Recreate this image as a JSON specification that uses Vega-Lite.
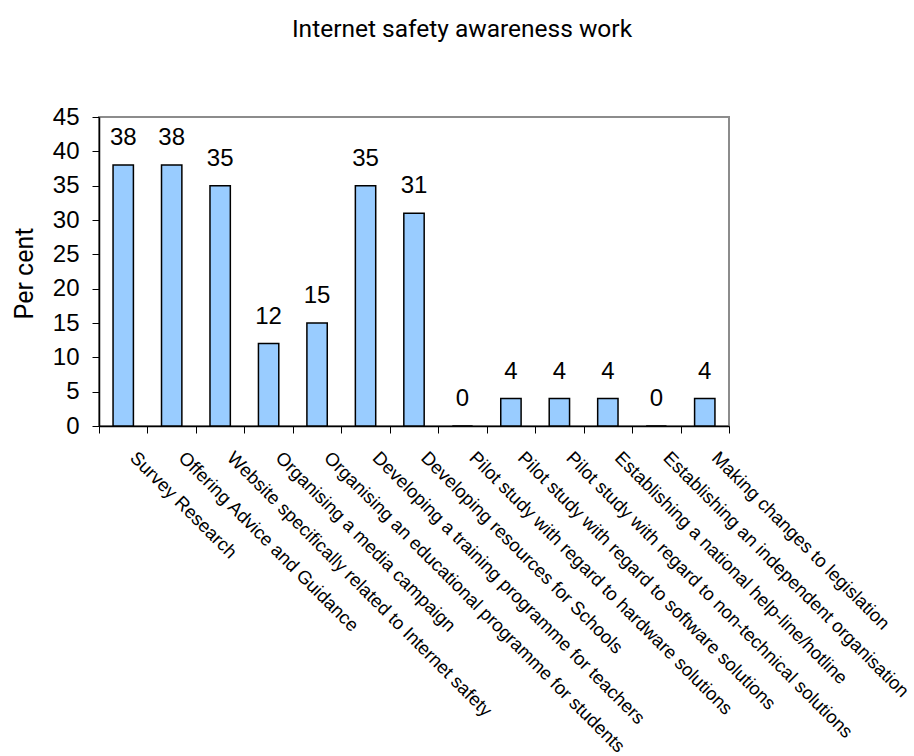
{
  "$schema": "https://vega.github.io/schema/vega-lite/v6.json",
  "width": 630,
  "height": 309,
  "autosize": "none",
  "padding": {"left": 99, "top": 117, "right": 185, "bottom": 330},
  "background": "white",
  "title": {
    "text": "Internet safety awareness work",
    "font": "'Liberation Sans Narrow', Roboto, sans-serif",
    "fontSize": 24.5,
    "fontWeight": "normal",
    "color": "black",
    "anchor": "middle",
    "baseline": "alphabetic",
    "dx": 48,
    "offset": 44
  },
  "config": {
    "view": {"stroke": "#8c8c8c", "strokeWidth": 2},
    "axis": {"grid": false}
  },
  "data": {
    "values": [
      {"activity": "Survey Research", "percent": 38},
      {"activity": "Offering Advice and Guidance", "percent": 38},
      {"activity": "Website specifically related to Internet safety", "percent": 35},
      {"activity": "Organising a media campaign", "percent": 12},
      {"activity": "Organising an educational programme for students", "percent": 15},
      {"activity": "Developing a training programme for teachers", "percent": 35},
      {"activity": "Developing resources for Schools", "percent": 31},
      {"activity": "Pilot study with regard to hardware solutions", "percent": 0},
      {"activity": "Pilot study with regard to software solutions", "percent": 4},
      {"activity": "Pilot study with regard to non-technical solutions", "percent": 4},
      {"activity": "Establishing a national help-line/hotline", "percent": 4},
      {"activity": "Establishing an independent organisation", "percent": 0},
      {"activity": "Making changes to legislation", "percent": 4}
    ]
  },
  "encoding": {
    "x": {
      "field": "activity",
      "type": "nominal",
      "sort": null,
      "scale": {"paddingInner": 0, "paddingOuter": 0},
      "axis": {
        "title": null,
        "domainColor": "black",
        "domainWidth": 1.5,
        "tickColor": "black",
        "tickWidth": 1,
        "tickSize": 7,
        "tickBand": "extent",
        "labelAngle": 45,
        "labelAlign": "left",
        "labelBaseline": "top",
        "labelOffset": 16,
        "labelPadding": 15,
        "labelFont": "Liberation Sans, Arial, sans-serif",
        "labelFontSize": 18.5,
        "labelColor": "black",
        "labelLimit": 700,
        "labelOverlap": false
      }
    },
    "y": {
      "field": "percent",
      "type": "quantitative",
      "scale": {"domain": [0, 45], "nice": false},
      "axis": {
        "values": [0, 5, 10, 15, 20, 25, 30, 35, 40, 45],
        "title": "Per cent",
        "titleFont": "'Liberation Sans Narrow', Roboto, sans-serif",
        "titleFontSize": 25,
        "titleFontWeight": "normal",
        "titleColor": "black",
        "titleAngle": -90,
        "titleAlign": "center",
        "titleBaseline": "alphabetic",
        "titleX": -67,
        "titleY": 156,
        "domainColor": "black",
        "domainWidth": 1.5,
        "tickColor": "black",
        "tickSize": 7,
        "labelPadding": 13,
        "labelFont": "Liberation Sans, Arial, sans-serif",
        "labelFontSize": 24,
        "labelColor": "black"
      }
    }
  },
  "layer": [
    {
      "mark": {
        "type": "bar",
        "width": {"band": 0.42},
        "fill": "#99ccff",
        "stroke": "black",
        "strokeWidth": 1.5
      }
    },
    {
      "mark": {
        "type": "text",
        "baseline": "alphabetic",
        "align": "center",
        "dy": -20,
        "font": "Liberation Sans, Arial, sans-serif",
        "fontSize": 24,
        "color": "black"
      },
      "encoding": {"text": {"field": "percent", "type": "quantitative"}}
    }
  ]
}
